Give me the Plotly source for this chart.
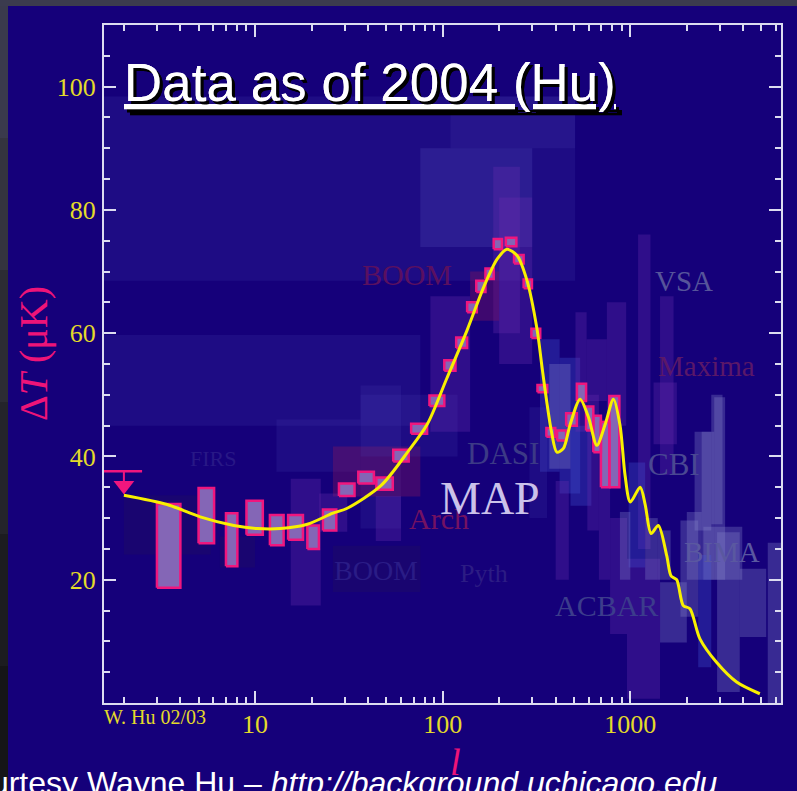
import math
import plotly.graph_objects as go

# ---------------------------------------------------------------- data
# Binned band powers (COBE at low l, WMAP above): l range and Delta T range in muK
PINK_L_LO = [3.0, 5.0, 7.0, 9.0, 12.0, 15.0, 19.0, 23.0, 28.0, 35.5, 44.3, 54.5, 67.9,
             85, 102, 118, 135, 151, 169, 187, 217, 240, 270, 297, 320, 357, 407, 455,
             519, 581, 635, 697, 773]
PINK_L_HI = [4.0, 6.05, 8.05, 11.0, 14.2, 18.0, 21.9, 27.1, 33.9, 43.0, 54.2, 65.9, 82.6,
             102, 117, 135, 152, 169, 187, 207, 247, 270, 299, 331, 361, 398, 455, 519,
             581, 635, 697, 773, 874]
PINK_T_LO = [18.7, 25.9, 22.2, 27.3, 25.6, 26.5, 25.0, 28.0, 33.6, 35.6, 34.6, 39.2, 43.7,
             48.2, 53.9, 57.6, 63.4, 66.7, 68.8, 73.6, 74.1, 71.3, 67.3, 59.2, 50.4, 43.2,
             42.6, 45.0, 49.0, 44.2, 40.7, 35.0, 35.0]
PINK_T_HI = [32.3, 34.9, 30.8, 32.8, 30.5, 30.5, 28.8, 31.4, 35.6, 37.5, 36.6, 41.1, 45.3,
             49.9, 55.6, 59.3, 65.0, 68.5, 70.5, 75.3, 75.5, 72.7, 68.7, 60.7, 51.6, 44.6,
             44.2, 47.0, 51.8, 48.1, 46.6, 45.6, 49.8]

# Quadrupole upper limit
LIMIT_L_LO, LIMIT_L_HI, LIMIT_L = 1.5, 2.5, 2.0
LIMIT_T = 37.6
LIMIT_HEAD_T = 35.3

# Model curve
CURVE_L = [2.0, 3.4, 5.1, 7.7, 10.3, 13.7, 19, 26, 31, 47, 65, 83, 105, 135, 165, 195,
           220, 249, 281, 318, 340, 360, 380, 406, 440, 478, 540, 598, 663, 734, 813,
           882, 937, 1000, 1128, 1200, 1290, 1410, 1563, 1650, 1766, 1915, 2078, 2350,
           2880, 3685, 4900]
CURVE_T = [33.7, 32.2, 30.2, 28.8, 28.3, 28.3, 29.0, 30.8, 31.6, 35.3, 40.7, 45.3, 52.6,
           60.5, 67.4, 72.0, 73.6, 72.6, 68.6, 60.7, 54.0, 48.5, 44.0, 40.7, 41.3, 45.2,
           49.3, 46.4, 41.8, 45.2, 49.3, 45.0, 37.0, 32.6, 35.0, 32.2, 27.5, 28.8, 23.9,
           20.6, 20.0, 15.8, 15.3, 10.4, 6.6, 3.4, 1.5]

# Other experiments: translucent error boxes
BOX_L_LO = [1.5, 110, 1.5, 13, 76, 186, 36.5, 26, 15.5, 44, 22, 2.0, 6.5, 26, 36.5, 86,
            140, 200, 330, 420, 370, 290, 480, 400, 1100, 1440, 750, 510, 585, 2400, 2800,
            2000, 2450, 5400, 3830, 2900, 2300, 1850, 1440, 780, 960, 980, 880, 1200, 1400,
            1330, 2700, 2200, 590, 680]
BOX_L_HI = [508, 508, 76, 36.5, 300, 258, 60, 76, 22.4, 60, 31, 5.8, 10, 76, 120, 140,
            200, 300, 420, 540, 480, 360, 620, 470, 1280, 1700, 950, 585, 750, 2800, 3200,
            2400, 3950, 6400, 5300, 3830, 2700, 2300, 2000, 960, 1440, 1200, 1000, 1400,
            1640, 1770, 3100, 2700, 680, 780]
BOX_T_LO = [68.5, 90, 45, 37.5, 74, 60, 28.3, 33.5, 15.8, 26.3, 27.8, 24.1, 22, 18, 40,
            44, 62, 55, 37.5, 34, 38, 30, 32, 20, 25, 37, 45, 44, 49, 20, 20, 20, 20, 0,
            10.7, 1.8, 5.8, 14, 9.8, 11.2, 0.7, 22, 20, 20, 20, 42, 29, 28, 28, 20]
BOX_T_HI = [98.4, 98.4, 59.7, 46, 90, 87, 51.5, 41.6, 36.4, 33.6, 34, 33.7, 27, 25.5, 50,
            66, 70, 82, 59, 56, 55, 48, 45, 36, 76, 66, 65, 63.4, 59, 44, 49.6, 31, 28.6,
            26, 21.8, 27.7, 24, 29.6, 19.6, 30, 23.4, 39, 31, 30, 28, 52, 50, 44, 50, 46]
BOX_KIND = ['navy', 'navy', 'navy', 'navy', 'haze', 'purple', 'navy', 'maroon', 'purple',
            'purple', 'purple', 'dark', 'dark', 'dark', 'navy', 'purple', 'maroon', 'purple',
            'blue', 'blue', 'steel', 'navy', 'blue', 'purple', 'purple', 'purple', 'purple',
            'purple', 'purple', 'steel', 'steel', 'steel', 'steel', 'steel', 'steel', 'steel',
            'blue', 'steel', 'steel', 'purple', 'purple', 'blue', 'steel', 'steel', 'steel',
            'purple', 'steel', 'steel', 'purple', 'purple']

# Experiment names
LABEL_TEXT = ['BOOM', 'VSA', 'Maxima', 'DASI', 'Arch', 'MAP', 'CBI', 'BIMA', 'ACBAR',
              'BOOM', 'Pyth', 'FIRS']
LABEL_L = [64.9, 1933, 2552, 210, 96, 179.6, 1710, 3076, 751, 44, 165, 5.97]
LABEL_T = [69.6, 68.5, 54.6, 40.4, 29.9, 33.1, 38.7, 24.5, 15.8, 21.5, 21.0, 39.7]
LABEL_COLOR = ['#5a1060', '#56549a', '#5a1868', '#3c3a86', '#741262', '#cbc2ea', '#4a4892',
               '#5a58a0', '#3c3c8c', '#2a1c86', '#2c1c84', '#281886']
LABEL_SIZE = [30, 29, 29, 31, 30, 46, 31, 29, 30, 28, 26, 22]

X_TICKS = [10, 100, 1000]
X_MINOR = [2, 3, 4, 5, 6, 7, 8, 9, 20, 30, 40, 50, 60, 70, 80, 90,
           200, 300, 400, 500, 600, 700, 800, 900, 2000, 3000, 4000, 5000, 6000]
Y_TICKS = [20, 40, 60, 80, 100]

# ---------------------------------------------------------------- style
NAVY = '#15007a'
FRAME = '#dcdcf0'
TICK_YELLOW = '#e4da2a'
PINK = '#f0167e'
BOX_COLORS = {
    'navy': 'rgba(70,60,175,0.20)',
    'haze': 'rgba(110,110,210,0.18)',
    'dark': 'rgba(30,10,100,0.45)',
    'purple': 'rgba(110,45,175,0.30)',
    'maroon': 'rgba(125,20,95,0.40)',
    'steel': 'rgba(140,140,205,0.30)',
    'blue': 'rgba(70,90,215,0.30)',
}

fig = go.Figure()

# translucent boxes of the other experiments
shapes = []
for l0, l1, t0, t1, kind in zip(BOX_L_LO, BOX_L_HI, BOX_T_LO, BOX_T_HI, BOX_KIND):
    shapes.append(dict(type='rect', xref='x', yref='y', x0=l0, x1=l1, y0=t0, y1=t1,
                       fillcolor=BOX_COLORS[kind], line=dict(width=0), layer='below'))

# page backdrop: grey frame, navy slide
PX_W = 677.0
PX_H = 678.0


def px_x(p):
    return (p - 104) / PX_W


def px_y(p):
    return (703 - p) / PX_H


shapes.append(dict(type='rect', xref='paper', yref='paper', x0=px_x(8), x1=px_x(800),
                   y0=px_y(795), y1=px_y(6), fillcolor=NAVY, line=dict(width=0),
                   layer='below'))
strip_greys = ['#3a3a4c', '#34343f', '#2c2c34', '#24242a', '#1c1c20', '#151518']
for i, g in enumerate(strip_greys):
    shapes.append(dict(type='rect', xref='paper', yref='paper', x0=px_x(-2), x1=px_x(8),
                       y0=px_y(132 * (i + 1) + 6), y1=px_y(132 * i + 6),
                       fillcolor=g, line=dict(width=0), layer='below'))

# COBE / WMAP boxes
bx, by = [], []
for l0, l1, t0, t1 in zip(PINK_L_LO, PINK_L_HI, PINK_T_LO, PINK_T_HI):
    bx += [l0, l1, l1, l0, l0, None]
    by += [t0, t0, t1, t1, t0, None]
fig.add_trace(go.Scatter(x=bx, y=by, mode='lines', fill='toself', fillcolor='#8466b6',
                         line=dict(color=PINK, width=2.5), hoverinfo='skip',
                         showlegend=False))

# quadrupole upper limit
fig.add_trace(go.Scatter(x=[LIMIT_L_LO, LIMIT_L_HI], y=[LIMIT_T, LIMIT_T], mode='lines',
                         line=dict(color=PINK, width=2.5), showlegend=False,
                         hoverinfo='skip'))
fig.add_trace(go.Scatter(x=[LIMIT_L, LIMIT_L], y=[LIMIT_T, LIMIT_HEAD_T], mode='lines',
                         line=dict(color=PINK, width=2), showlegend=False,
                         hoverinfo='skip'))
fig.add_trace(go.Scatter(x=[LIMIT_L], y=[LIMIT_HEAD_T], mode='markers',
                         marker=dict(symbol='triangle-down', size=18, color=PINK,
                                     line=dict(width=0)),
                         showlegend=False, hoverinfo='skip'))

# model curve
fig.add_trace(go.Scatter(x=CURVE_L, y=CURVE_T, mode='lines',
                         line=dict(color='#f8f000', width=3, shape='spline', smoothing=0.8),
                         showlegend=False, hoverinfo='skip'))

annotations = []
for txt, l, t, c, s in zip(LABEL_TEXT, LABEL_L, LABEL_T, LABEL_COLOR, LABEL_SIZE):
    annotations.append(dict(x=math.log10(l), y=t, xref='x', yref='y', text=txt,
                            showarrow=False, xanchor='center', yanchor='middle',
                            font=dict(family='Liberation Serif', size=s, color=c)))

# title
annotations.append(dict(xref='paper', yref='paper', x=px_x(122), y=px_y(82),
                        xanchor='left', yanchor='middle', showarrow=False,
                        text='Data as of 2004 (Hu)',
                        font=dict(family='Liberation Sans', size=53, color='white',
                                  lineposition='under', shadow='3px 3px 0px #000000')))
# axis titles
annotations.append(dict(xref='paper', yref='paper', x=px_x(33), y=px_y(354),
                        xanchor='center', yanchor='middle',
                        textangle=-90, showarrow=False,
                        text='\u0394<i>T</i> (\u03bcK)',
                        font=dict(family='Liberation Serif', size=40, color='#ee1478')))
annotations.append(dict(xref='paper', yref='paper', x=px_x(456), y=px_y(762),
                        xanchor='center', yanchor='middle',
                        showarrow=False, text='<i>l</i>',
                        font=dict(family='Liberation Serif', size=38, color='#ee1478')))
annotations.append(dict(xref='paper', yref='paper', x=px_x(102), y=px_y(717),
                        xanchor='left', yanchor='middle', showarrow=False,
                        text='W. Hu 02/03',
                        font=dict(family='Liberation Serif', size=20, color=TICK_YELLOW)))
annotations.append(dict(xref='paper', yref='paper', x=px_x(-52), y=px_y(783),
                        xanchor='left', yanchor='middle', showarrow=False,
                        text='Courtesy Wayne Hu \u2013 <i>http://background.uchicago.edu</i>',
                        font=dict(family='Liberation Sans', size=32, color='white')))

axis_common = dict(showline=True, linecolor=FRAME, linewidth=2, mirror='allticks',
                   ticks='inside', tickcolor=FRAME, tickwidth=2, ticklen=12,
                   showgrid=False, zeroline=False,
                   tickfont=dict(family='Liberation Serif', size=26, color=TICK_YELLOW))

fig.update_xaxes(type='log', range=[0.195, 3.803], tickmode='array', tickvals=X_TICKS,
                 ticktext=[str(v) for v in X_TICKS], ticklabelstandoff=-3,
                 minor=dict(tickmode='array', tickvals=X_MINOR, ticks='inside',
                            ticklen=6, tickwidth=2, tickcolor=FRAME),
                 **axis_common)
fig.update_yaxes(range=[0, 110], tickmode='array', tickvals=Y_TICKS,
                 ticklabelstandoff=1,
                 minor=dict(dtick=5, tick0=0, ticks='inside', ticklen=6, tickwidth=2,
                            tickcolor=FRAME),
                 **axis_common)

fig.update_layout(width=797, height=791, margin=dict(l=104, r=16, t=25, b=88),
                  paper_bgcolor='#3b3b4e', plot_bgcolor=NAVY,
                  shapes=shapes, annotations=annotations, showlegend=False)

fig.write_html('out.html')
